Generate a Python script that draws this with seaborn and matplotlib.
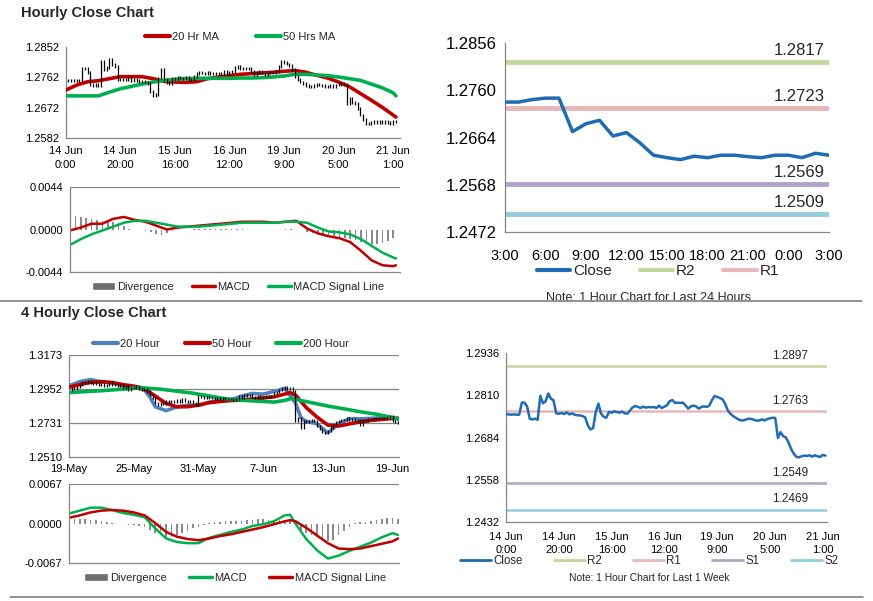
import numpy as np
import matplotlib
matplotlib.use("Agg")
import matplotlib.pyplot as plt
import seaborn as sns
from matplotlib.lines import Line2D
from matplotlib.patches import Patch, Rectangle

sns.set_theme(style="white")
plt.rcParams['font.family'] = ['Liberation Sans', 'DejaVu Sans']

# ---------------- DATA ----------------
# Hourly close, last week (14 Jun 0:00 ... 21 Jun 1:00), one value per hour
h_close = [1.2753, 1.2753, 1.2752, 1.2753, 1.2752, 1.2752, 1.2788, 1.2788, 1.2776, 1.2740,
           1.2738, 1.2740, 1.2737, 1.2808, 1.2786, 1.2792, 1.2815, 1.2800, 1.2795, 1.2756,
           1.2755, 1.2757, 1.2754, 1.2759, 1.2753, 1.2756, 1.2752, 1.2750, 1.2750, 1.2748,
           1.2744, 1.2720, 1.2708, 1.2712, 1.2760, 1.2785, 1.2755, 1.2746, 1.2743, 1.2760,
           1.2758, 1.2762, 1.2760, 1.2758, 1.2761, 1.2756, 1.2755, 1.2765, 1.2774, 1.2778,
           1.2775, 1.2772, 1.2776, 1.2773, 1.2775, 1.2774, 1.2775, 1.2772, 1.2779, 1.2772,
           1.2776, 1.2780, 1.2792, 1.2796, 1.2787, 1.2788, 1.2787, 1.2788, 1.2780, 1.2770,
           1.2777, 1.2779, 1.2777, 1.2770, 1.2775, 1.2777, 1.2775, 1.2779, 1.2795, 1.2808,
           1.2805, 1.2802, 1.2798, 1.2785, 1.2765, 1.2755, 1.2748, 1.2743, 1.2738, 1.2735,
           1.2735, 1.2738, 1.2740, 1.2739, 1.2737, 1.2734, 1.2735, 1.2738, 1.2735, 1.2739,
           1.2741, 1.2743, 1.2742, 1.2683, 1.2700, 1.2688, 1.2684, 1.2670, 1.2650, 1.2636,
           1.2626, 1.2625, 1.2628, 1.2630, 1.2629, 1.2631, 1.2627, 1.2631, 1.2628, 1.2626,
           1.2632, 1.2630]
h_idx = list(range(len(h_close)))
h_xticks = [0, 20, 40, 60, 80, 100, 120]
h_xlabels = ["14 Jun\n0:00", "14 Jun\n20:00", "15 Jun\n16:00", "16 Jun\n12:00",
             "19 Jun\n9:00", "20 Jun\n5:00", "21 Jun\n1:00"]

# Hourly moving averages and MACD (read every 4 hours)
h_ma_idx = [0, 4, 8, 12, 16, 20, 24, 28, 32, 36, 40, 44, 48, 52, 56, 60,
            64, 68, 72, 76, 80, 84, 88, 92, 96, 100, 104, 108, 112, 116, 120, 121]
h_ma20 = [1.2724, 1.2739, 1.2749, 1.2752, 1.2758, 1.2764, 1.2764, 1.2764, 1.2758, 1.2750,
          1.2748, 1.2747, 1.2749, 1.2758, 1.2763, 1.2767, 1.2771, 1.2773, 1.2775, 1.2777,
          1.2780, 1.2782, 1.2777, 1.2768, 1.2760, 1.2748, 1.2734, 1.2714, 1.2694, 1.2673,
          1.2650, 1.2644]
h_ma50 = [1.2707, 1.2707, 1.2707, 1.2707, 1.2718, 1.2728, 1.2735, 1.2742, 1.2748, 1.2753,
          1.2756, 1.2758, 1.2759, 1.2759, 1.2759, 1.2759, 1.2760, 1.2760, 1.2761, 1.2763,
          1.2766, 1.2771, 1.2771, 1.2769, 1.2767, 1.2763, 1.2758, 1.2753, 1.2742, 1.2731,
          1.2716, 1.2707]
h_macd = [-0.0001, 0.0002, 0.0006, 0.0006, 0.0011, 0.0013, 0.0010, 0.0008, 0.0004, 0.0000,
          0.0002, 0.0003, 0.0004, 0.0005, 0.0006, 0.0007, 0.0008, 0.0008, 0.0008, 0.0007,
          0.0008, 0.0009, 0.0001, -0.0004, -0.0007, -0.0009, -0.0013, -0.0022, -0.0032, -0.0037,
          -0.0038, -0.0037]
h_signal = [-0.0016, -0.0010, -0.0005, -0.0001, 0.0003, 0.0007, 0.0009, 0.0009, 0.0007, 0.0005,
            0.0003, 0.0003, 0.0003, 0.0004, 0.0005, 0.0006, 0.0007, 0.0007, 0.0007, 0.0007,
            0.0008, 0.0008, 0.0007, 0.0002, -0.0002, -0.0003, -0.0005, -0.0010, -0.0017, -0.0024,
            -0.0029, -0.0030]
h_div_idx = list(range(0, 121, 2))
h_div = [0.0015, 0.0014, 0.0013, 0.0012, 0.0011, 0.0010, 0.0009, 0.0008, 0.0008, 0.0007,
         0.0004, 0.0001, 0.0000, -0.0001, -0.0002, -0.0003, -0.0005, -0.0006, -0.0004, -0.0002,
         -0.0001, 0.0000, 0.0000, 0.0001, 0.0001, 0.0001, 0.0001, 0.0001, 0.0001, 0.0001,
         0.0001, 0.0001, 0.0001, 0.0000, 0.0000, 0.0000, -0.0001, 0.0000, 0.0000, 0.0000,
         0.0001, 0.0001, 0.0000, -0.0001, -0.0003, -0.0004, -0.0005, -0.0006, -0.0006, -0.0007,
         -0.0008, -0.0009, -0.0010, -0.0011, -0.0013, -0.0014, -0.0015, -0.0015, -0.0014, -0.0012,
         -0.0009]
h_price_ticks = [1.2582, 1.2672, 1.2762, 1.2852]
h_macd_ticks = [-0.0044, 0.0000, 0.0044]

# Last 24 hours (hourly)
d_close = [1.2736, 1.2736, 1.2741, 1.2744, 1.2744, 1.2676, 1.2692, 1.2699, 1.2667, 1.2674,
           1.2653, 1.2628, 1.2623, 1.2619, 1.2626, 1.2623, 1.2628, 1.2628, 1.2625, 1.2623,
           1.2628, 1.2628, 1.2623, 1.2632, 1.2628]
d_idx = list(range(len(d_close)))
d_xticks = [0, 3, 6, 9, 12, 15, 18, 21, 24]
d_xlabels = ["3:00", "6:00", "9:00", "12:00", "15:00", "18:00", "21:00", "0:00", "3:00"]
d_yticks = [1.2472, 1.2568, 1.2664, 1.2760, 1.2856]
d_levels = {"R2": 1.2817, "R1": 1.2723, "S1": 1.2569, "S2": 1.2509}

# Weekly view levels
w_levels = {"R2": 1.2897, "R1": 1.2763, "S1": 1.2549, "S2": 1.2469}
w_yticks = [1.2432, 1.2558, 1.2684, 1.2810, 1.2936]

# 4-hourly close (19 May ... 19 Jun)
f_close = [1.2945, 1.2958, 1.2950, 1.2965, 1.2975, 1.2995, 1.2990, 1.3005, 1.2992, 1.2985,
           1.2995, 1.2978, 1.2985, 1.2970, 1.2980, 1.2995, 1.2975, 1.2980, 1.2970, 1.2975,
           1.2960, 1.2968, 1.2945, 1.2958, 1.2960, 1.2970, 1.2955, 1.2948, 1.2950, 1.2935,
           1.2915, 1.2890, 1.2860, 1.2845, 1.2862, 1.2855, 1.2870, 1.2865, 1.2872, 1.2868,
           1.2880, 1.2865, 1.2885, 1.2872, 1.2868, 1.2875, 1.2860, 1.2845, 1.2905, 1.2900,
           1.2893, 1.2898, 1.2890, 1.2895, 1.2888, 1.2892, 1.2885, 1.2890, 1.2887, 1.2884,
           1.2886, 1.2882, 1.2888, 1.2905, 1.2895, 1.2910, 1.2905, 1.2915, 1.2900, 1.2895,
           1.2902, 1.2890, 1.2898, 1.2903, 1.2897, 1.2905, 1.2925, 1.2930, 1.2945, 1.2955,
           1.2962, 1.2950, 1.2955, 1.2940, 1.2740, 1.2760, 1.2700, 1.2745, 1.2735, 1.2742,
           1.2748, 1.2740, 1.2710, 1.2688, 1.2672, 1.2665, 1.2680, 1.2700, 1.2715, 1.2735,
           1.2740, 1.2752, 1.2748, 1.2765, 1.2750, 1.2755, 1.2745, 1.2752, 1.2720, 1.2748,
           1.2745, 1.2755, 1.2758, 1.2762, 1.2756, 1.2760, 1.2765, 1.2762, 1.2770, 1.2778,
           1.2740, 1.2735, 1.2732]
f_idx = list(range(len(f_close)))
f_xticks = [0, 24, 48, 72, 96, 120]
f_xlabels = ["19-May", "25-May", "31-May", "7-Jun", "13-Jun", "19-Jun"]
f_yticks = [1.2510, 1.2731, 1.2952, 1.3173]

f_ma20_idx = [0, 4, 8, 12, 16, 20, 24, 28, 30, 32, 36, 40, 44, 48, 52, 56, 60, 64, 68,
              72, 76, 80, 84, 86, 88, 92, 96, 100, 104, 108, 112, 116, 120, 122]
f_ma20 = [1.2972, 1.2999, 1.3013, 1.2998, 1.2990, 1.2975, 1.2967, 1.2945, 1.2900, 1.2835,
          1.2810, 1.2835, 1.2846, 1.2845, 1.2866, 1.2876, 1.2880, 1.2905, 1.2922, 1.2918,
          1.2935, 1.2955, 1.2860, 1.2765, 1.2740, 1.2725, 1.2665, 1.2725, 1.2758, 1.2757,
          1.2760, 1.2763, 1.2762, 1.2758]
f_ma50_idx = [0, 4, 8, 12, 16, 20, 24, 28, 32, 36, 40, 44, 48, 52, 56, 60, 64, 68, 72,
              76, 80, 82, 84, 88, 92, 96, 100, 104, 108, 112, 116, 120, 122]
f_ma50 = [1.2963, 1.2980, 1.2995, 1.2999, 1.2994, 1.2980, 1.2970, 1.2953, 1.2905, 1.2858,
          1.2835, 1.2836, 1.2846, 1.2862, 1.2870, 1.2876, 1.2880, 1.2886, 1.2893, 1.2900,
          1.2918, 1.2928, 1.2912, 1.2830, 1.2768, 1.2716, 1.2710, 1.2724, 1.2737, 1.2747,
          1.2753, 1.2759, 1.2761]
f_ma200_idx = [0, 12, 21, 26, 34, 46, 58, 66, 72, 76, 80, 83, 85, 90, 96, 102, 108, 114, 120, 122]
f_ma200 = [1.2928, 1.2940, 1.2952, 1.2961, 1.2950, 1.2924, 1.2888, 1.2876, 1.2870, 1.2866,
           1.2877, 1.2891, 1.2880, 1.2862, 1.2840, 1.2822, 1.2803, 1.2787, 1.2765, 1.2755]

f_macd_idx = f_ma50_idx
f_macd = [0.0017, 0.0022, 0.0027, 0.0027, 0.0023, 0.0018, 0.0015, 0.0011, -0.0008, -0.0025,
          -0.0031, -0.0033, -0.0033, -0.0024, -0.0019, -0.0014, -0.0010, -0.0004, -0.0001, 0.0004,
          0.0014, 0.0015, 0.0000, -0.0026, -0.0045, -0.0059, -0.0054, -0.0046, -0.0039, -0.0032,
          -0.0023, -0.0016, -0.0019]
f_signal = [0.0010, 0.0014, 0.0019, 0.0022, 0.0023, 0.0022, 0.0019, 0.0014, 0.0001, -0.0014,
            -0.0022, -0.0026, -0.0028, -0.0025, -0.0021, -0.0018, -0.0014, -0.0010, -0.0006, -0.0001,
            0.0004, 0.0006, 0.0004, -0.0007, -0.0020, -0.0033, -0.0042, -0.0043, -0.0042, -0.0038,
            -0.0034, -0.0030, -0.0025]
f_div_idx = list(range(0, 123, 2))
f_div = [0.0007, 0.0008, 0.0008, 0.0008, 0.0007, 0.0006, 0.0004, 0.0002, 0.0001, 0.0000,
         -0.0001, -0.0002, -0.0003, -0.0004, -0.0005, -0.0010, -0.0015, -0.0020, -0.0024, -0.0022,
         -0.0019, -0.0016, -0.0012, -0.0008, -0.0005, -0.0002, 0.0001, 0.0002, 0.0003, 0.0004,
         0.0004, 0.0005, 0.0005, 0.0006, 0.0007, 0.0008, 0.0008, 0.0007, 0.0006, 0.0006,
         0.0006, 0.0004, -0.0002, -0.0010, -0.0015, -0.0019, -0.0023, -0.0027, -0.0030, -0.0028,
         -0.0020, -0.0012, -0.0005, 0.0001, 0.0002, 0.0003, 0.0005, 0.0006, 0.0008, 0.0009,
         0.0010, 0.0008]
f_macd_ticks = [-0.0067, 0.0000, 0.0067]

# ---------------- STYLE ----------------
RED = '#c00000'
GREEN = '#00b050'
BLUE = '#4f81bd'
CLOSE = '#1f6cb3'
DIVC = '#8a8a8a'
AXC = '#868686'
LVL = {"R2": '#c3d69b', "R1": '#e6b9b8', "S1": '#b3a2c7', "S2": '#93cddd'}

W, H = 873, 601
fig = plt.figure(figsize=(W / 100, H / 100), dpi=100)


def box(l, r, t, b):
    return [l / W, 1 - b / H, (r - l) / W, (b - t) / H]


def style(ax, fs):
    for s in ['top', 'right']:
        ax.spines[s].set_visible(False)
    for s in ['left', 'bottom']:
        ax.spines[s].set_color(AXC)
        ax.spines[s].set_linewidth(0.9)
    ax.tick_params(axis='both', direction='out', length=3, width=0.8, color=AXC,
                   labelsize=fs, pad=2, labelcolor='black')
    ax.set_xlabel('')
    ax.set_ylabel('')
    ax.grid(False)
    ax.set_facecolor('white')


def fmt(v):
    return f"{v:.4f}"


def sticks(ax, xs, ys, pad):
    # bar from previous close to current close, with a small visual stroke extension
    lo = [min(a, b) - pad for a, b in zip(ys[:-1], ys[1:])]
    hi = [max(a, b) + pad for a, b in zip(ys[:-1], ys[1:])]
    ax.vlines(xs[1:], lo, hi, color='black', lw=0.9, zorder=5)


def legend(handles, labels, cx, cy, fs, hl, cs):
    fig.legend(handles, labels, loc='center', bbox_to_anchor=(cx / W, 1 - cy / H),
               ncol=len(handles), frameon=False, fontsize=fs, handlelength=hl,
               columnspacing=cs, handletextpad=0.2, borderpad=0, borderaxespad=0)


# Titles
fig.text(20.7 / W, 1 - 13 / H, "Hourly Close Chart", fontsize=10.5, fontweight='bold',
         ha='left', va='center')
fig.text(20.7 / W, 1 - 313 / H, "4 Hourly Close Chart", fontsize=10.5, fontweight='bold',
         ha='left', va='center')

# ---- Hourly price with MAs ----
ax1 = fig.add_axes(box(65.7, 400, 47, 138))
sns.lineplot(x=h_ma_idx, y=h_ma20, ax=ax1, color=RED, lw=2.6, zorder=3)
sns.lineplot(x=h_ma_idx, y=h_ma50, ax=ax1, color=GREEN, lw=2.6, zorder=3)
sticks(ax1, h_idx, h_close, 0.0004)
ax1.set_xlim(0, 122.5)
ax1.set_ylim(h_price_ticks[0], h_price_ticks[-1])
ax1.set_yticks(h_price_ticks)
ax1.set_yticklabels([fmt(v) for v in h_price_ticks])
ax1.set_xticks(h_xticks)
ax1.set_xticklabels(h_xlabels, linespacing=1.4)
style(ax1, 8)
ax1.tick_params(axis='x', pad=3)
legend([Line2D([], [], color=RED, lw=3), Line2D([], [], color=GREEN, lw=3)],
       ["20 Hr MA", "50 Hrs MA"], 240, 37, 8, 2.25, 3.3)

# ---- Hourly MACD ----
ax2 = fig.add_axes(box(70, 400, 187, 272))
ax2.bar(h_div_idx, h_div, width=0.6, color=DIVC, linewidth=0)
sns.lineplot(x=h_ma_idx, y=h_macd, ax=ax2, color=RED, lw=1.8)
sns.lineplot(x=h_ma_idx, y=h_signal, ax=ax2, color=GREEN, lw=1.8)
ax2.set_xlim(0, 122.5)
ax2.set_ylim(h_macd_ticks[0], h_macd_ticks[-1])
ax2.set_yticks(h_macd_ticks)
ax2.set_yticklabels([fmt(v) for v in h_macd_ticks])
ax2.axhline(h_macd_ticks[-1], color=AXC, lw=0.9)
ax2.set_xticks([])
style(ax2, 8)
legend([Patch(facecolor='#6d6d6d'), Line2D([], [], color=RED, lw=2.5),
        Line2D([], [], color=GREEN, lw=2.5)],
       ["Divergence", "MACD", "MACD Signal Line"], 238, 287, 8, 2.1, 1.6)

# ---- Last 24 hours ----
ax3 = fig.add_axes(box(505, 829, 43, 232))
for name, lv in d_levels.items():
    ax3.axhline(lv, color=LVL[name], lw=3.5, zorder=1)
    ax3.annotate(fmt(lv), xy=(24, lv), xytext=(-3, 3), textcoords='offset points',
                 ha='right', va='bottom', fontsize=12)
sns.lineplot(x=d_idx, y=d_close, ax=ax3, color=CLOSE, lw=2.5, zorder=3)
ax3.set_xlim(0, 24)
ax3.set_ylim(d_yticks[0], d_yticks[-1])
ax3.set_yticks(d_yticks)
ax3.set_yticklabels([fmt(v) for v in d_yticks])
ax3.set_xticks(d_xticks)
ax3.set_xticklabels(d_xlabels)
style(ax3, 12)
ax3.tick_params(axis='x', labelsize=10.5, length=4, pad=8)
ax3.tick_params(axis='y', length=4)
legend([Line2D([], [], color=CLOSE, lw=3), Line2D([], [], color=LVL["R2"], lw=3),
        Line2D([], [], color=LVL["R1"], lw=3)],
       ["Close", "R2", "R1"], 658, 271, 11, 2.2, 1.8)
fig.text(648 / W, 1 - 300.8 / H, "Note: 1 Hour Chart for Last 24 Hours", fontsize=9,
         ha='center', va='baseline')

# ---- 4 hourly price ----
ax4 = fig.add_axes(box(69, 399.3, 355, 456.7))
for g in f_yticks[1:]:
    ax4.axhline(g, color=AXC, lw=0.9, zorder=0)
sns.lineplot(x=f_ma20_idx, y=f_ma20, ax=ax4, color=BLUE, lw=2.6, zorder=3)
sns.lineplot(x=f_ma50_idx, y=f_ma50, ax=ax4, color=RED, lw=2.6, zorder=3)
sns.lineplot(x=f_ma200_idx, y=f_ma200, ax=ax4, color=GREEN, lw=2.6, zorder=3)
sticks(ax4, f_idx, f_close, 0.0007)
ax4.set_xlim(0, 122.5)
ax4.set_ylim(f_yticks[0], f_yticks[-1])
ax4.set_yticks(f_yticks)
ax4.set_yticklabels([fmt(v) for v in f_yticks])
ax4.set_xticks(f_xticks)
ax4.set_xticklabels(f_xlabels)
style(ax4, 8)
legend([Line2D([], [], color=BLUE, lw=3), Line2D([], [], color=RED, lw=3),
        Line2D([], [], color=GREEN, lw=3)],
       ["20 Hour", "50 Hour", "200 Hour"], 221, 344, 8, 2.25, 2.2)

# ---- 4 hourly MACD ----
ax5 = fig.add_axes(box(69, 399.3, 484, 563.3))
ax5.bar(f_div_idx, f_div, width=0.6, color=DIVC, linewidth=0)
sns.lineplot(x=f_macd_idx, y=f_macd, ax=ax5, color=GREEN, lw=1.8)
sns.lineplot(x=f_macd_idx, y=f_signal, ax=ax5, color=RED, lw=1.8)
ax5.set_xlim(0, 122.5)
ax5.set_ylim(f_macd_ticks[0], f_macd_ticks[-1])
ax5.set_yticks(f_macd_ticks)
ax5.set_yticklabels([fmt(v) for v in f_macd_ticks])
ax5.axhline(f_macd_ticks[-1], color=AXC, lw=0.9)
ax5.set_xticks([])
style(ax5, 8)
legend([Patch(facecolor='#6d6d6d'), Line2D([], [], color=GREEN, lw=2.5),
        Line2D([], [], color=RED, lw=2.5)],
       ["Divergence", "MACD", "MACD Signal Line"], 235, 578, 8, 2.1, 2.0)

# ---- Weekly hourly line ----
ax6 = fig.add_axes(box(506, 827, 353, 522))
for name, lv in w_levels.items():
    ax6.axhline(lv, color=LVL[name], lw=1.8, zorder=1)
    ax6.annotate(fmt(lv), xy=(107.6, lv), xytext=(0, 3), textcoords='offset points',
                 ha='center', va='bottom', fontsize=8.5)
sns.lineplot(x=h_idx, y=h_close, ax=ax6, color=CLOSE, lw=1.8, zorder=3)
ax6.set_xlim(0, 121.6)
ax6.set_ylim(w_yticks[0], w_yticks[-1])
ax6.set_yticks(w_yticks)
ax6.set_yticklabels([fmt(v) for v in w_yticks])
ax6.set_xticks(h_xticks)
ax6.set_xticklabels(h_xlabels, linespacing=1.4)
style(ax6, 8)
ax6.tick_params(axis='x', pad=4)
legend([Line2D([], [], color=CLOSE, lw=2)] +
       [Line2D([], [], color=LVL[k], lw=2) for k in ["R2", "R1", "S1", "S2"]],
       ["Close", "R2", "R1", "S1", "S2"], 649, 561, 8.3, 2.7, 2.7)
fig.text(649 / W, 1 - 578 / H, "Note: 1 Hour Chart for Last 1 Week", fontsize=7.4,
         ha='center', va='center')

# Separator lines (the note above the first line is cut by it, as in the source)
fig.add_artist(Rectangle((420 / W, 1 - 304 / H), 450 / W, 4.5 / H, transform=fig.transFigure,
                         facecolor='white', edgecolor='none', zorder=9))
fig.add_artist(Line2D([0, 862 / W], [1 - 300.5 / H] * 2, color='#7f7f7f', lw=1.2, zorder=10))
fig.add_artist(Line2D([10 / W, 863 / W], [1 - 597 / H] * 2, color='#7f7f7f', lw=1.2, zorder=10))

fig.savefig("out.png", dpi=100)
